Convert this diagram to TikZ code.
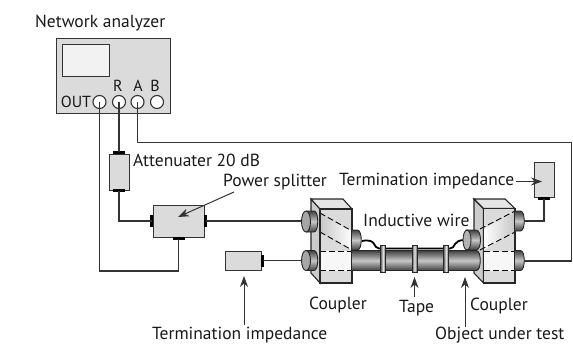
\documentclass[tikz,border=0pt]{standalone}
\usepackage{fontspec}
\setmainfont{PT Sans}
\usetikzlibrary{arrows.meta}
\definecolor{boxg}{gray}{0.86}
\definecolor{lineg}{gray}{0.2}
\tikzset{
  lbl/.style={inner sep=0pt,font=\fontsize{17.5}{20}\selectfont,text=black!90},
  smalllbl/.style={inner sep=0pt,font=\fontsize{16}{18}\selectfont,text=black!90},
  boxed/.style={draw=lineg,line width=1.1pt,fill=boxg,inner sep=0pt,anchor=north west},
  conn/.style={fill=black,inner sep=0pt,draw=none,anchor=center},
  wireln/.style={draw=lineg,line width=1.2pt},
  portpin/.style={draw=black!80,line width=1.1pt,fill=white,circle,minimum size=13pt,inner sep=0pt},
  pointer/.style={draw=lineg,line width=1pt,-{Stealth[length=11pt,width=8pt]}},
  tube/.style={top color=black!75,bottom color=black!75,middle color=black!22,draw=black!85,line width=.9pt},
  faceside/.style={fill=black!20,draw=black!85,line width=1.1pt},
  facetop/.style={fill=black!10,draw=black!85,line width=1.1pt},
  facefront/.style={fill=boxg,draw=black!85,line width=1.1pt},
  dashln/.style={draw=black,line width=.9pt,dash pattern=on 6pt off 3pt},
  tapeband/.style={draw=black!85,line width=.9pt,inner sep=0pt,minimum width=5pt,minimum height=27pt,left color=black!65,right color=black!65,middle color=black!10},
}
% \rport{x left}{y top}{length}{height}: cylinder with rounded right end, flat left
\newcommand{\rport}[4]{%
  \path[tube] (#1,#2) -- ({#1+#3-5},#2) .. controls ({#1+#3},#2) and ({#1+#3},{#2+#4}) .. ({#1+#3-5},{#2+#4}) -- (#1,{#2+#4});}
% \eport: cylinder with visible elliptical left cap
\newcommand{\eport}[4]{%
  \rport{#1}{#2}{#3}{#4}
  \draw[fill=black!35,draw=black!85,line width=.9pt] (#1,{#2+#4/2}) ellipse [x radius=4.5pt,y radius={#4/2*1pt}];}
\begin{document}
\begin{tikzpicture}[x=1pt,y=-1pt]
\useasboundingbox (0,0) rectangle (573,343);

% analyzer
\node[boxed,minimum width=114pt,minimum height=74.5pt] (ana) at (55.5,38) {};
\node[boxed,fill=black!5,minimum width=47pt,minimum height=31.5pt] (screen) at (62,44) {};
\node[portpin] (pout) at (99.5,102) {};
\node[portpin] (pr) at (119,102) {};
\node[portpin] (pa) at (137.5,102) {};
\node[portpin] (pb) at (157,102) {};
\node[smalllbl] (tout) at (76,102) {OUT};
\node[smalllbl] (tr) at (118,86) {R};
\node[smalllbl] (ta) at (138,86) {A};
\node[smalllbl] (tb) at (155,86) {B};
\node[lbl,anchor=west] (tana) at (35,23) {Network analyzer};

% attenuator
\node[boxed,minimum width=19.5pt,minimum height=36pt] (att) at (109,153.5) {};
\node[conn,minimum width=12pt,minimum height=3pt] (atttop) at (119,152) {};
\node[conn,minimum width=12pt,minimum height=3pt] (attbot) at (119,190.5) {};
\node[lbl,anchor=west] (tatt) at (133,160) {Attenuater 20 dB};

% splitter
\node[boxed,minimum width=51pt,minimum height=32pt] (spl) at (153,205) {};
\node[conn,minimum width=3pt,minimum height=12pt] (splL) at (151.5,221) {};
\node[conn,minimum width=3pt,minimum height=12pt] (splR) at (205.5,221) {};
\node[conn,minimum width=12pt,minimum height=3pt] (splB) at (178.5,238.5) {};
\coordinate (splTip) at (178,217);
\node[lbl,anchor=west] (tspl) at (223,182) {Power splitter};
\coordinate (splFrom) at (234,192);

% terminations
\node[boxed,minimum width=35.5pt,minimum height=19.5pt] (termL) at (225,250.5) {};
\node[conn,minimum width=3pt,minimum height=12pt] (termLc) at (262.5,260.5) {};
\node[boxed,minimum width=20pt,minimum height=35pt] (termR) at (534,162) {};
\node[conn,minimum width=12pt,minimum height=3pt] (termRc) at (544,198.5) {};
\coordinate (termRTip) at (542,181.5);
\node[lbl,anchor=west] (ttermR) at (339,181) {Termination impedance};
\node[lbl,anchor=west] (ttermL) at (152,335) {Termination impedance};

% connectors
\coordinate (lp1) at (306,221);
\coordinate (lp2) at (306,260.5);
\coordinate (rp1) at (522,221);
\coordinate (rp2) at (522,261);
\coordinate (corner) at (571.5,142.5);
\coordinate (ob) at (99.5,271);
\draw[wireln] (pout.center) -- (ob) -| (splB.center);
\draw[wireln] (pr.center) -- (atttop.center);
\draw[wireln] (attbot.center) |- (splL.center);
\draw[wireln] (pa.center) |- (corner) |- (rp2);
\draw[wireln] (splR.center) -- (lp1);
\draw[wireln] (termLc.center) -- (lp2);
\draw[wireln] (termRc.center) |- (rp1);

% left coupler
\path[faceside] (311,199) -- (320,209) -- (320,283) -- (311,273) -- cycle;
\path[facetop] (311,199) -- (343,199) -- (352,209) -- (320,209) -- cycle;
\path[facefront] (320,209) rectangle (352,283);
\path[left color=black!22,right color=white] (320,213) -- (352,231) -- (352,250) -- (320,232) -- cycle;
\path[fill=black!3] (320,251) rectangle (352,270.5);
\draw[dashln] (320,213) -- (352,231);
\draw[dashln] (320,232) -- (352,250);
\draw[dashln] (320,251) -- (352,251);
\draw[dashln] (320,270.5) -- (352,270.5);
\draw[draw=black!85,line width=1.1pt] (320,209) rectangle (352,283);
\eport{306}{211}{13}{21}
\eport{306}{250.5}{13}{20}
\rport{352}{230}{10.5}{20}

% right coupler
\path[faceside] (474,199) -- (483.5,208.5) -- (483.5,283) -- (474,273) -- cycle;
\path[facetop] (474,199) -- (505,199) -- (515,208.5) -- (483.5,208.5) -- cycle;
\path[facefront] (483.5,208.5) rectangle (515,283);
\path[left color=white,right color=black!22] (483.5,229) -- (515,212) -- (515,232) -- (483.5,250) -- cycle;
\path[fill=black!3] (483.5,251) rectangle (515,270.5);
\draw[dashln] (480,229) -- (515,211);
\draw[dashln] (480,250) -- (515,232);
\draw[dashln] (483.5,251) -- (515,251);
\draw[dashln] (483.5,270.5) -- (515,270.5);
\draw[draw=black!85,line width=1.1pt] (483.5,208.5) rectangle (515,283);
\rport{515}{211}{10.5}{20}
\rport{515}{250.5}{10.5}{20}

% object under test
\rport{352}{250.5}{129.5}{20}
% inductive wire
\coordinate (wl0) at (362,241);
\coordinate (wl1) at (379,248.5);
\coordinate (wr1) at (450,248.5);
\coordinate (wr0) at (465,240);
\draw[draw=black,line width=1.8pt] (wl0) .. controls (377,238) and (373,248.5) .. (wl1) -- (wr1) .. controls (456,248.5) and (452,240) .. (wr0);
% inner right port
\path[tube] (466,230) -- (476,230) .. controls (482,230) and (482,250) .. (476,250) -- (466,250) -- cycle;
\draw[fill=black!30,draw=black!85,line width=.9pt] (467,240) ellipse [x radius=4pt,y radius=10pt];

% tapes
\node[tapeband] (tape1) at (383,259) {};
\node[tapeband] (tape2) at (414.5,259) {};
\node[tapeband] (tape3) at (446,259) {};

% labels
\node[lbl,anchor=west] (twire) at (363,220) {Inductive wire};
\node[lbl,anchor=west] (tc1) at (309,305) {Coupler};
\node[lbl,anchor=west] (tc2) at (470,306) {Coupler};
\node[lbl,anchor=west] (ttape) at (399,308) {Tape};
\node[lbl,anchor=west] (tobj) at (435,335) {Object under test};

% pointers
\coordinate (p1) at (516,181.5);
\coordinate (p2) at (244,325);
\coordinate (p2t) at (244,276);
\coordinate (p3) at (414.5,297);
\coordinate (p3t) at (414.5,277);
\coordinate (p4) at (465,327);
\coordinate (p4t) at (465,277);
\draw[pointer] (splFrom) -- (splTip);
\draw[pointer] (p1) -- (termRTip);
\draw[pointer] (p2) -- (p2t);
\draw[pointer] (p3) -- (p3t);
\draw[pointer] (p4) -- (p4t);
\end{tikzpicture}
\end{document}
